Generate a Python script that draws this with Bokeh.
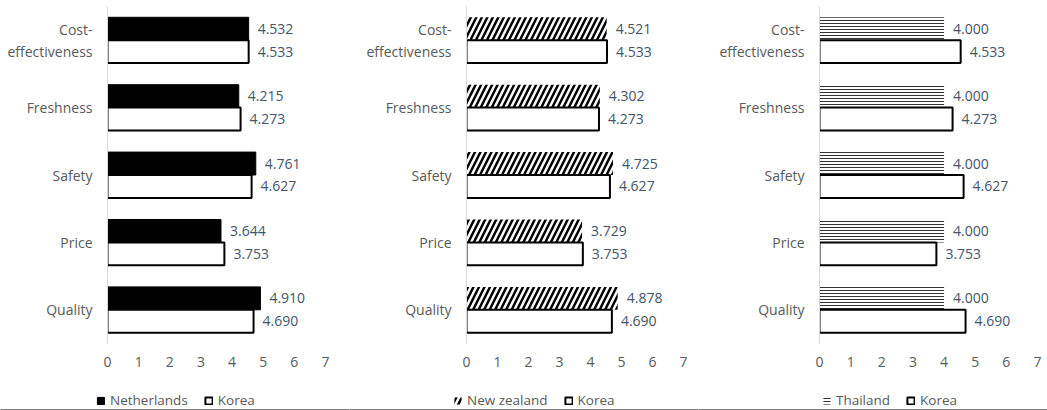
from bokeh.plotting import figure
from bokeh.layouts import row, column
from bokeh.models import FixedTicker, Legend, LegendItem, Range1d, ColumnDataSource
from bokeh.core.properties import value
from bokeh.embed import file_html
from bokeh.resources import INLINE
import numpy as np

# categories listed bottom -> top
categories = ["Quality", "Price", "Safety", "Freshness", "Cost-effectiveness"]
category_labels = ["Quality", "Price", "Safety", "Freshness", "Cost-\neffectiveness"]
korea = [4.690, 3.753, 4.627, 4.273, 4.533]
netherlands = [4.910, 3.644, 4.761, 4.215, 4.532]
new_zealand = [4.878, 3.729, 4.725, 4.302, 4.521]
thailand = [4.000, 4.000, 4.000, 4.000, 4.000]
x_ticks = [0, 1, 2, 3, 4, 5, 6, 7]

FONT = "Open Sans"
LABEL_COLOR = "#44546A"
AXIS_COLOR = "#595959"


def style_kwargs(style):
    if style == "solid":
        return dict(fill_color="black", line_color="black", line_width=1)
    if style == "diag":
        return dict(fill_color="white", line_color=None, hatch_pattern="/",
                    hatch_color="black", hatch_scale=11, hatch_weight=2.5)
    if style == "horiz":
        return dict(fill_color="white", line_color=None, hatch_pattern="-",
                    hatch_color="#333333", hatch_scale=3, hatch_weight=1)
    return dict(fill_color="white", line_color="black", line_width=2)


def make_panel(country, vals, style, left_border, right_border, legend_x):
    pos = np.arange(len(categories))
    p = figure(width=349, height=380, x_range=Range1d(0, 7), y_range=Range1d(-0.5, 4.5),
               output_backend="svg", toolbar_location=None,
               min_border_left=left_border, min_border_right=right_border,
               min_border_top=6, min_border_bottom=37)
    p.outline_line_color = None
    p.xgrid.visible = False
    p.ygrid.visible = False

    bar_h = 0.34
    src_c = ColumnDataSource(dict(y=pos + bar_h / 2, v=vals, t=[f"{v:.3f}" for v in vals]))
    src_k = ColumnDataSource(dict(y=pos - bar_h / 2, v=korea, t=[f"{v:.3f}" for v in korea]))

    p.hbar(y="y", left=0, right="v", height=bar_h, source=src_c, **style_kwargs(style))
    p.hbar(y="y", left=0, right="v", height=bar_h, source=src_k, **style_kwargs("korea"))

    for src in (src_c, src_k):
        p.text(x="v", y="y", text="t", source=src, x_offset=9,
               text_baseline="middle", text_align="left",
               text_font=value(FONT), text_font_size="14px", text_color=LABEL_COLOR)

    p.yaxis.ticker = FixedTicker(ticks=list(pos))
    p.yaxis.major_label_overrides = {int(i): lab for i, lab in zip(pos, category_labels)}
    p.yaxis.axis_line_color = "#D9D9D9"
    p.yaxis.major_tick_line_color = None
    p.yaxis.minor_tick_line_color = None
    p.yaxis.major_label_standoff = 9
    p.yaxis.major_label_text_font = FONT
    p.yaxis.major_label_text_font_size = "14px"
    p.yaxis.major_label_text_line_height = 1.15
    p.yaxis.major_label_text_color = AXIS_COLOR

    p.xaxis.ticker = FixedTicker(ticks=x_ticks)
    p.xaxis.axis_line_color = None
    p.xaxis.major_tick_line_color = None
    p.xaxis.minor_tick_line_color = None
    p.xaxis.major_label_standoff = 7
    p.xaxis.major_label_text_font = FONT
    p.xaxis.major_label_text_font_size = "14px"
    p.xaxis.major_label_text_color = AXIS_COLOR

    # legend strip below the chart
    lg = figure(width=349, height=30, x_range=Range1d(0, 1), y_range=Range1d(0, 1),
                output_backend="svg", toolbar_location=None,
                x_axis_type=None, y_axis_type=None,
                min_border_left=0, min_border_right=0, min_border_top=0, min_border_bottom=0)
    lg.frame_align = False
    lg.outline_line_color = None
    lg.xgrid.visible = False
    lg.ygrid.visible = False
    off = dict(y=[-10], right=[1])  # lies outside the strip's range; only feeds the legend swatch
    r1 = lg.hbar(y="y", left=0, right="right", height=0.5,
                 source=ColumnDataSource(dict(off)), **style_kwargs(style))
    r2 = lg.hbar(y="y", left=0, right="right", height=0.5,
                 source=ColumnDataSource(dict(off)), **style_kwargs("korea"))
    legend = Legend(items=[LegendItem(label=country, renderers=[r1]),
                           LegendItem(label="Korea", renderers=[r2])],
                    orientation="horizontal", location=(legend_x, 1),
                    glyph_width=9, glyph_height=9, label_standoff=5, spacing=16,
                    padding=0, margin=0, border_line_color=None, background_fill_alpha=0,
                    label_text_font=FONT, label_text_font_size="13.5px",
                    label_text_color=AXIS_COLOR)
    lg.add_layout(legend, "center")
    return column(p, lg, spacing=0)


p1 = make_panel("Netherlands", netherlands, "solid", 107, 24, 96)
p2 = make_panel("New zealand", new_zealand, "diag", 117, 15, 104)
p3 = make_panel("Thailand", thailand, "horiz", 121, 10, 124)

layout = row(p1, p2, p3, spacing=0)
open("out.html", "w").write(file_html(layout, INLINE))
